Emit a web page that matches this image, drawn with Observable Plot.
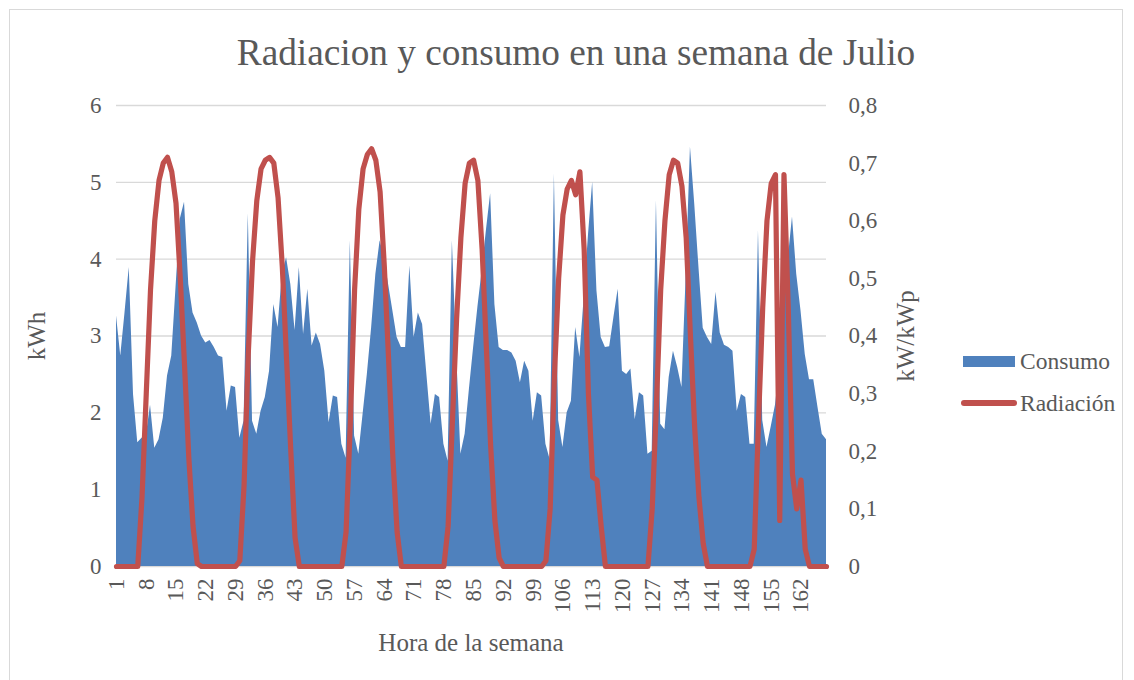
<!DOCTYPE html>
<html>
<head>
<meta charset="utf-8">
<script src="https://cdn.jsdelivr.net/npm/d3@7"></script>
<script src="https://cdn.jsdelivr.net/npm/@observablehq/plot@0.6"></script>
<style>
  html, body { margin: 0; padding: 0; background: #fff; }
  #wrap { position: relative; width: 1134px; height: 680px; font-family: "Liberation Serif", "Times New Roman", serif; color: #595959; overflow: hidden; }
  #frame { position: absolute; left: 9px; top: 9px; width: 1114px; height: 680px; border: 1px solid #D9D9D9; box-sizing: border-box; }
  .t { position: absolute; white-space: nowrap; line-height: 1; }
  #plot { position: absolute; left: 0; top: 0; }
  #plot svg, #plot svg text, #plot svg g { font-family: "Liberation Serif", "Times New Roman", serif !important; }
</style>
</head>
<body>
<div id="wrap">
  <div id="frame"></div>
  <div id="plot"></div>
  <div class="t" id="title" style="left:576px; top:34px; font-size:37.3px; transform:translateX(-50%);">Radiacion y consumo en una semana de Julio</div>
  <div class="t" id="ylab" style="left:36px; top:336px; font-size:25px; transform:translate(-50%,-50%) rotate(-90deg);">kWh</div>
  <div class="t" id="y2lab" style="left:905px; top:336px; font-size:25px; transform:translate(-50%,-50%) rotate(-90deg);">kW/kWp</div>
  <div class="t" id="xlab" style="left:471px; top:630px; font-size:25px; transform:translateX(-50%);">Hora de la semana</div>
  <div style="position:absolute; left:963px; top:356px; width:52px; height:11px; background:#4F81BD;"></div>
  <div class="t" style="left:1020px; top:350px; font-size:23.5px;">Consumo</div>
  <div style="position:absolute; left:961px; top:400px; width:56px; height:6px; background:#C0504D; border-radius:3px;"></div>
  <div class="t" style="left:1020px; top:392px; font-size:23.5px;">Radiación</div>
</div>
<script>
// Hour of the week (categories 1..168)
const horas = d3.range(1, 169);

// Consumo (kWh) per hour
const consumo = [
  3.26, 2.74, 3.30, 3.89, 2.24, 1.61, 1.67, 1.70, 2.10, 1.54, 1.65, 1.93, 2.48, 2.74, 3.63, 4.52, 4.74, 3.67, 3.30, 3.17, 3.00, 2.91, 2.94, 2.85,
  2.74, 2.72, 2.02, 2.35, 2.33, 1.67, 1.89, 4.59, 1.89, 1.72, 2.02, 2.20, 2.54, 3.41, 3.11, 3.80, 4.02, 3.67, 3.07, 3.89, 3.02, 3.61, 2.87, 3.04,
  2.89, 2.54, 1.87, 2.22, 2.20, 1.59, 1.41, 4.24, 1.70, 1.46, 1.98, 2.50, 3.10, 3.80, 4.24, 4.02, 3.67, 3.33, 2.98, 2.85, 2.85, 3.91, 2.98, 3.30,
  3.15, 2.50, 1.85, 2.24, 2.20, 1.59, 1.37, 4.24, 2.80, 1.46, 1.72, 2.30, 2.85, 3.37, 3.85, 4.37, 4.85, 3.41, 2.85, 2.81, 2.81, 2.78, 2.67, 2.39,
  2.67, 2.54, 1.89, 2.26, 2.22, 1.59, 1.39, 5.11, 1.90, 1.55, 2.00, 2.15, 3.11, 2.72, 3.50, 4.30, 5.00, 3.59, 2.98, 2.85, 2.86, 3.24, 3.61, 2.54,
  2.50, 2.57, 1.91, 2.26, 2.22, 1.46, 1.50, 4.76, 1.85, 1.78, 2.46, 2.80, 2.59, 2.33, 3.80, 5.46, 4.72, 3.89, 3.10, 2.98, 2.89, 3.57, 3.04, 2.88,
  2.85, 2.80, 2.02, 2.24, 2.20, 1.59, 1.59, 4.37, 1.90, 1.55, 1.82, 2.10, 2.60, 3.30, 4.00, 4.55, 3.80, 3.33, 2.76, 2.43, 2.43, 2.07, 1.72, 1.65
];

// Radiación (kW/kWp) per hour
const radiacion = [
  0, 0, 0, 0, 0, 0, 0.12, 0.30, 0.48, 0.60, 0.67, 0.70, 0.71, 0.685, 0.63, 0.50, 0.35, 0.19, 0.07, 0.005, 0, 0, 0, 0,
  0, 0, 0, 0, 0, 0.01, 0.14, 0.37, 0.53, 0.635, 0.69, 0.705, 0.71, 0.70, 0.64, 0.52, 0.36, 0.20, 0.05, 0, 0, 0, 0, 0,
  0, 0, 0, 0, 0, 0, 0.06, 0.25, 0.48, 0.62, 0.69, 0.715, 0.725, 0.705, 0.65, 0.52, 0.36, 0.19, 0.06, 0, 0, 0, 0, 0,
  0, 0, 0, 0, 0, 0, 0.07, 0.25, 0.43, 0.57, 0.665, 0.70, 0.705, 0.67, 0.55, 0.38, 0.21, 0.08, 0.015, 0, 0, 0, 0, 0,
  0, 0, 0, 0, 0, 0.01, 0.10, 0.33, 0.50, 0.61, 0.655, 0.67, 0.645, 0.685, 0.55, 0.30, 0.155, 0.15, 0.07, 0, 0, 0, 0, 0,
  0, 0, 0, 0, 0, 0, 0.10, 0.28, 0.48, 0.60, 0.68, 0.705, 0.70, 0.66, 0.57, 0.40, 0.24, 0.12, 0.04, 0, 0, 0, 0, 0,
  0, 0, 0, 0, 0, 0, 0.03, 0.25, 0.45, 0.60, 0.665, 0.68, 0.08, 0.68, 0.45, 0.16, 0.10, 0.15, 0.03, 0, 0, 0, 0, 0
];

const xTicks = [1, 8, 15, 22, 29, 36, 43, 50, 57, 64, 71, 78, 85, 92, 99, 106, 113, 120, 127, 134, 141, 148, 155, 162];
const leftTicks = [0, 1, 2, 3, 4, 5, 6];
const rightTicks = [0, 0.1, 0.2, 0.3, 0.4, 0.5, 0.6, 0.7, 0.8];

// secondary axis mapped onto the primary one: 0.8 kW/kWp <-> 6 kWh
const ratio = 6 / 0.8;

const rowsC = horas.map((h, i) => ({h, v: consumo[i]}));
const rowsR = horas.map((h, i) => ({h, v: radiacion[i] * ratio}));

const fmtR = d => {
  const v = Math.round(d / ratio * 10) / 10;
  return v === 0 ? "0" : String(v).replace(".", ",");
};

const chart = Plot.plot({
  width: 1134,
  height: 680,
  marginLeft: 116,
  marginRight: 308,
  marginTop: 105,
  marginBottom: 114,
  style: {fontFamily: "'Liberation Serif', 'Times New Roman', serif", fontSize: "23px", color: "#595959", background: "transparent", overflow: "visible"},
  x: {type: "linear", domain: [1, 168]},
  y: {domain: [0, 6]},
  marks: [
    Plot.ruleY(leftTicks, {stroke: "#D9D9D9", strokeWidth: 1.3}),
    Plot.areaY(rowsC, {x: "h", y: "v", fill: "#4F81BD", curve: "linear"}),
    Plot.lineY(rowsR, {x: "h", y: "v", stroke: "#C0504D", strokeWidth: 5.2, strokeLinejoin: "round", strokeLinecap: "round", curve: "linear"}),
    Plot.axisY({anchor: "left", ticks: leftTicks, tickSize: 0, tickPadding: 15, label: null, tickFormat: d => String(d), fontSize: 23}),
    Plot.axisY({anchor: "right", ticks: rightTicks.map(t => t * ratio), tickSize: 0, tickPadding: 22, label: null, tickFormat: fmtR, fontSize: 23}),
    Plot.axisX({ticks: xTicks, tickSize: 0, tickPadding: 12, tickRotate: -90, label: null, tickFormat: d => String(d), fontSize: 23})
  ]
});
document.getElementById("plot").appendChild(chart);
</script>
</body>
</html>
